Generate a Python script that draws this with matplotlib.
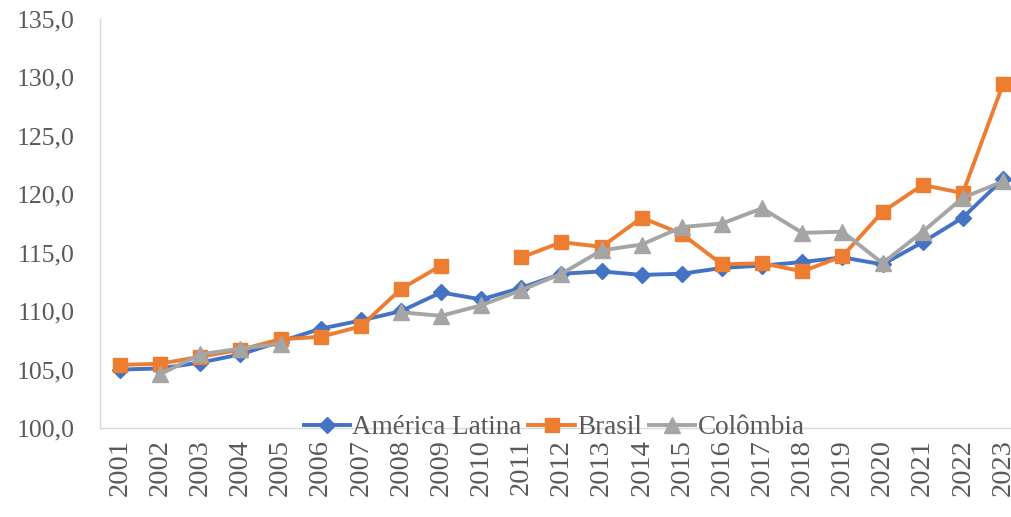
import numpy as np
import matplotlib
matplotlib.use('Agg')
import matplotlib.pyplot as plt

anos = [str(a) for a in range(2001, 2024)]

america_latina = [105.0, 105.1, 105.6, 106.3, 107.4, 108.5, 109.2, 110.0, 111.6, 111.0,
                  112.0, 113.2, 113.4, 113.1, 113.2, 113.7, 113.9, 114.2, 114.6, 114.0,
                  115.9, 118.0, 121.3]
brasil = [105.4, 105.5, 106.1, 106.7, 107.6, 107.8, 108.7, 111.9, 113.9, np.nan,
          114.6, 115.9, 115.5, 118.0, 116.6, 114.0, 114.1, 113.4, 114.7, 118.5,
          120.8, 120.1, 129.4]
colombia = [np.nan, 104.6, 106.3, 106.8, 107.2, np.nan, np.nan, 109.9, 109.6, 110.5,
            111.8, 113.2, 115.2, 115.7, 117.2, 117.5, 118.8, 116.7, 116.8, 114.1,
            116.8, 119.7, 121.1]

plt.rcParams['font.family'] = ['Liberation Serif', 'DejaVu Serif']

fig = plt.figure(figsize=(10.12, 5.17), dpi=100)
ax = fig.add_axes([100/1012, 1-428/517, 923/1012, 409/517])

x = np.arange(len(anos))
ax.plot(x, america_latina, color='#4472C4', lw=2.8, marker='D', ms=8, label='América Latina')
ax.plot(x, brasil, color='#ED7D31', lw=2.8, marker='s', ms=10.5, label='Brasil')
ax.plot(x, colombia, color='#A5A5A5', lw=2.8, marker='^', ms=11, label='Colômbia')

ax.set_xlim(-0.5, len(anos) - 0.5)
ax.set_ylim(100, 135)
ax.set_yticks(np.arange(100, 136, 5))
ax.set_yticklabels([f'{v:.1f}'.replace('.', ',') for v in np.arange(100, 136, 5)])
ax.set_xticks(x)
ax.set_xticklabels(anos, rotation=90)

for s in ['top', 'right']:
    ax.spines[s].set_visible(False)
for s in ['left', 'bottom']:
    ax.spines[s].set_color('#D9D9D9')
    ax.spines[s].set_linewidth(1.0)

ax.tick_params(axis='y', length=0, pad=18, labelsize=18.5, labelcolor='#595959')
ax.tick_params(axis='x', length=0, pad=8, labelsize=20.5, labelcolor='#595959')

leg = ax.legend(loc='center', bbox_to_anchor=(0.492, 0.0), ncol=3, frameon=False,
                fontsize=19.5, handlelength=1.7, handletextpad=0.1, columnspacing=0.25,
                borderpad=0.1, borderaxespad=0)
for t in leg.get_texts():
    t.set_color('#595959')

fig.savefig('out.png', dpi=100)
